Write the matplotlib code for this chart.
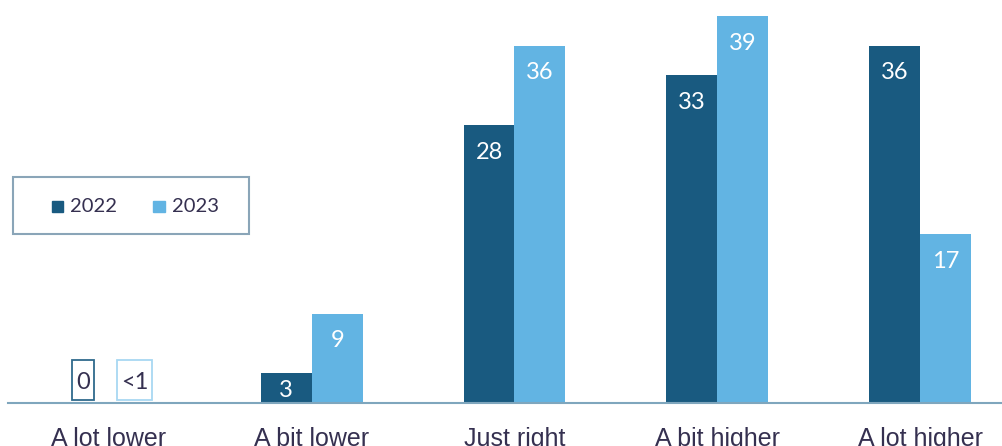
import matplotlib
matplotlib.use("Agg")
import matplotlib.pyplot as plt
from matplotlib.patches import Rectangle
import numpy as np

categories = ["A lot lower", "A bit lower", "Just right", "A bit higher", "A lot higher"]
series_names = ["2022", "2023"]
values_2022 = [0, 3, 28, 33, 36]
values_2023 = [0, 9, 36, 39, 17]
labels_2022 = ["0", "3", "28", "33", "36"]
labels_2023 = ["<1", "9", "36", "39", "17"]

c2022 = "#195a80"
c2023 = "#62b4e3"
text_dark = "#353050"

W, H = 1003, 446
fig = plt.figure(figsize=(W/100, H/100), dpi=100)
ax = fig.add_axes([8/W, 43/H, 995/W, 403/H])

x = np.arange(len(categories))
w = 0.251
b1 = ax.bar(x - w/2, values_2022, w, color=c2022, label=series_names[0])
b2 = ax.bar(x + w/2, values_2023, w, color=c2023, label=series_names[1])

box_edges = {c2022: "#2f6a8c", c2023: "#a8d8f2"}
for bars, labs, col in [(b1, labels_2022, c2022), (b2, labels_2023, c2023)]:
    for rect, lab in zip(bars, labs):
        h = rect.get_height()
        cx = rect.get_x() + rect.get_width()/2
        if h >= 2.5:
            ax.text(cx, max(h - 2.75, h/2 - 0.2), lab, ha="center", va="center",
                    color="white", fontsize=17, family="Lato")
        else:
            bw = 0.108 if len(lab) == 1 else 0.172
            ax.add_patch(Rectangle((cx - bw/2, 0.35), bw, 3.95, fill=False,
                                   ec=box_edges[col], lw=1.3))
            ax.text(cx, 2.1, lab, ha="center", va="center", color=text_dark,
                    fontsize=17, family="Lato")

ax.set_xlim(-0.4975, 4.409)
ax.set_ylim(0, 40.6)
ax.set_yticks([])
for s in ["top", "right", "left"]:
    ax.spines[s].set_visible(False)
ax.spines["bottom"].set_color("#7fa6bd")
ax.spines["bottom"].set_linewidth(1.5)
ax.set_xticks(x)
ax.set_xticklabels(categories, fontsize=18, color=text_dark, family="Liberation Sans")
ax.tick_params(axis="x", length=0, pad=17)

# legend drawn in figure pixel coordinates
def fx(px):
    return px / W

def fy(py):
    return 1 - py / H

fig.patches.append(Rectangle((fx(13), fy(234)), fx(249) - fx(13), fy(177) - fy(234),
                             transform=fig.transFigure, fill=False, ec="#8aa5b8", lw=1.5))
for (sx, tx), col, name in zip([(52, 70), (153, 172)], [c2022, c2023], series_names):
    fig.patches.append(Rectangle((fx(sx), fy(212)), fx(11.5), 11.5 / H,
                                 transform=fig.transFigure, color=col))
    fig.text(fx(tx), fy(206.5), name, ha="left", va="center", color=text_dark,
             fontsize=14.5, family="Lato")

fig.savefig("out.png", dpi=100)
